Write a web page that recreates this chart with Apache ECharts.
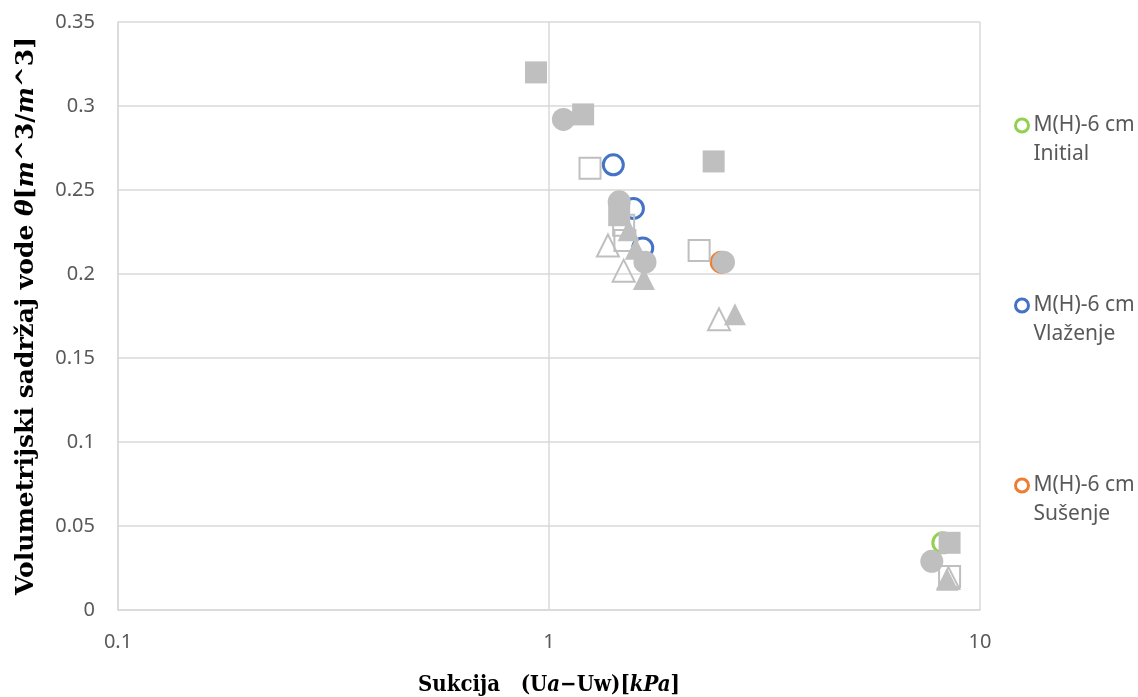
<!DOCTYPE html>
<html><head><meta charset="utf-8">
<script src="https://cdn.jsdelivr.net/npm/echarts@6/dist/echarts.min.js"></script>
<style>html,body{margin:0;padding:0;background:#fff}#c{width:1138px;height:697px}</style>
</head><body><div id="c"></div>
<script>
const xTicks = [0.1, 1, 10];
const yTicks = [0, 0.05, 0.1, 0.15, 0.2, 0.25, 0.3, 0.35];
const legendNames = ['M(H)-6 cm\nInitial', 'M(H)-6 cm\nVlaženje', 'M(H)-6 cm\nSušenje'];
const initialPts = [[8.2, 0.040]];
const wettingPts = [[1.41, 0.265], [1.57, 0.239], [1.65, 0.2155]];
const dryingPts = [[2.51, 0.207]];
const graySquareFilled = [[0.933, 0.320], [1.2, 0.295], [2.41, 0.267], [1.455, 0.235], [8.5, 0.040]];
const graySquareOpen = [[1.245, 0.263], [2.23, 0.214], [1.49, 0.229], [1.50, 0.220], [8.5, 0.020]];
const grayTriOpen = [[1.37, 0.217], [1.49, 0.202], [2.48, 0.173], [8.45, 0.019]];
const grayTriFilled = [[1.53, 0.226], [1.59, 0.215], [1.66, 0.197], [2.70, 0.176], [8.4, 0.018]];
const grayCircleFilled = [[1.08, 0.292], [1.455, 0.243], [1.67, 0.207], [2.54, 0.207], [7.73, 0.029]];

const gray = '#BFBFBF';
const colors = ['#92D050', '#4472C4', '#ED7D31'];
const serifC = 'DejaVu Serif Condensed';
const serif = 'DejaVu Serif';
function hollow(name, data, color) {
  return { name, type: 'scatter', data, symbol: 'circle', symbolSize: 20,
    itemStyle: { color: '#fff', borderColor: color, borderWidth: 3, opacity: 1 }, z: 2 };
}
function grayS(name, data, symbol, filled, size) {
  return { name, type: 'scatter', data, symbol, symbolSize: size || 22,
    itemStyle: filled ? { color: gray, opacity: 1 } : { color: 'rgba(255,255,255,0)', borderColor: gray, borderWidth: 2, opacity: 1 }, z: 3 };
}
const chart = echarts.init(document.getElementById('c'));
chart.setOption({
  animation: false,
  grid: { left: 118, right: 158, top: 22, bottom: 87, outerBoundsMode: 'none', containLabel: false },
  legend: {
    orient: 'vertical', left: 1014, top: 82, padding: 0, itemGap: 93, itemWidth: 13, itemHeight: 13,
    data: legendNames.map((n, i) => ({ name: n, icon: 'circle',
      itemStyle: { color: '#fff', borderColor: colors[i], borderWidth: 3 } })),
    formatter: n => ' \n' + n,
    textStyle: { fontFamily: 'Noto Sans', fontSize: 21, color: '#595959', lineHeight: 29 }
  },
  xAxis: {
    type: 'log', logBase: 10, min: xTicks[0], max: xTicks[xTicks.length - 1],
    name: 'Sukcija   (U{i|a}−Uw)[{i|kPa}]', nameLocation: 'middle', nameGap: 64,
    nameTextStyle: { fontFamily: serifC, fontWeight: 'bold', fontSize: 22, color: '#000',
      rich: { i: { fontFamily: serifC, fontStyle: 'italic', fontWeight: 'bold', fontSize: 22, color: '#000' } } },
    axisLine: { show: true, lineStyle: { color: '#D9D9D9', width: 1.5 } },
    axisTick: { show: false },
    splitLine: { show: true, lineStyle: { color: '#D9D9D9', width: 1.5 } },
    minorTick: { show: false }, minorSplitLine: { show: false },
    axisLabel: { fontFamily: 'Noto Sans', fontSize: 20, color: '#595959', margin: 22,
      formatter: v => String(+v.toPrecision(3)) }
  },
  yAxis: {
    type: 'value', min: 0, max: 0.35, interval: 0.05,
    name: 'Volumetrijski sadržaj vode {i|θ}[{i|m}^3/{i|m}^3]', nameLocation: 'middle', nameGap: 79,
    nameTextStyle: { fontFamily: serif, fontWeight: 'bold', fontSize: 25, color: '#000',
      rich: { i: { fontFamily: serif, fontStyle: 'italic', fontWeight: 'bold', fontSize: 25, color: '#000' } } },
    axisLine: { show: true, lineStyle: { color: '#D9D9D9', width: 1.5 } },
    axisTick: { show: false },
    splitLine: { show: true, lineStyle: { color: '#D9D9D9', width: 1.5 } },
    axisLabel: { fontFamily: 'Noto Sans', fontSize: 20, color: '#595959', margin: 23,
      formatter: v => String(+v.toFixed(2)) }
  },
  series: [
    hollow(legendNames[0], initialPts, colors[0]),
    hollow(legendNames[1], wettingPts, colors[1]),
    hollow(legendNames[2], dryingPts, colors[2]),
    grayS('s-open', graySquareOpen, 'rect', false, 21),
    grayS('t-open', grayTriOpen, 'triangle', false, 22),
    grayS('sq-filled', graySquareFilled, 'rect', true, 22),
    grayS('t-filled', grayTriFilled, 'triangle', true, 22),
    grayS('c-filled', grayCircleFilled, 'circle', true, 23)
  ]
});
</script></body></html>
